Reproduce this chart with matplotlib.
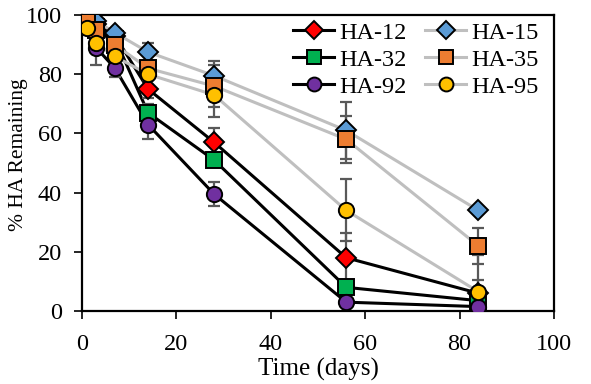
import matplotlib
matplotlib.use("Agg")
import matplotlib.pyplot as plt
from matplotlib.lines import Line2D

plt.rcParams['font.family'] = ['Liberation Serif', 'DejaVu Serif']

# -------------------------
# DATA
# -------------------------

days = [1, 3, 7, 14, 28, 56, 84]

names = ["HA-12", "HA-32", "HA-92", "HA-15", "HA-35", "HA-95"]

ha12 = [99, 97, 93, 75, 57, 18, 6]
ha32 = [98, 96, 92, 67, 51, 8, 3.5]
ha92 = [97, 89, 82, 63, 39.5, 3, 1.5]
ha15 = [99, 98, 94, 87.5, 79.5, 61, 34]
ha35 = [98.5, 95, 90, 82, 76, 58, 22]
ha95 = [95.5, 90.5, 86, 80, 73, 34, 6.5]

err12 = [1, 1, 1.5, 3, 5, 8.5, 4.5]
err32 = [1, 1, 1.5, 3, 2, 2.5, 1.5]
err92 = [1, 6, 3, 5, 4, 1, 1]
err15 = [1, 1, 1, 3, 5, 9.5, 1]
err35 = [1, 1, 2, 2, 7, 8, 6]
err95 = [1, 1.5, 2, 2, 7.5, 10.5, 12.5]

values = [ha12, ha32, ha92, ha15, ha35, ha95]
errors = [err12, err32, err92, err15, err35, err95]

# -------------------------
# STYLES
# -------------------------

face = ["#FF0000", "#00B050", "#7030A0", "#5B9BD5", "#ED7D31", "#FFC000"]
markers = ["D", "s", "o", "D", "s", "o"]
msizes = [10.5, 11, 11, 10.5, 11, 11]
line_col = ["black", "black", "black", "#BFBFBF", "#BFBFBF", "#BFBFBF"]

fig = plt.figure(figsize=(5.91, 3.84), dpi=100)
ax = fig.add_axes([0.1387, 0.19, 0.7986, 0.7708])

for i in range(6):
    ax.plot(days, values[i], color=line_col[i], linewidth=2.2, zorder=2)

for i in range(6):
    ax.errorbar(days, values[i], yerr=errors[i], fmt="none", ecolor="#595959",
                elinewidth=1.6, capsize=4.3, capthick=1.6, zorder=3)

for i in range(6):
    ax.plot(days, values[i], linestyle="none", marker=markers[i], markersize=msizes[i],
            markerfacecolor=face[i], markeredgecolor="black", markeredgewidth=1.4,
            zorder=4 + i)

handles = [
    Line2D([0], [0], color=line_col[i], linewidth=2.2, marker=markers[i],
           markersize=msizes[i] - 1, markerfacecolor=face[i], markeredgecolor="black",
           markeredgewidth=1.4)
    for i in range(6)
]
ax.legend(handles, names, ncol=2, loc="upper right", bbox_to_anchor=(0.998, 1.026),
          frameon=False, fontsize=17.5, handlelength=1.69, handletextpad=0.2,
          columnspacing=0.77, labelspacing=0.2, borderaxespad=0.2)

ax.set_xlim(0, 100)
ax.set_ylim(0, 100)
ax.set_xticks(range(0, 101, 20))
ax.set_yticks(range(0, 101, 20))
ax.tick_params(axis="both", direction="out", length=5.5, width=1.2, labelsize=17.5,
               top=False, right=False)
ax.tick_params(axis="x", pad=11)
ax.tick_params(axis="y", pad=9)
for s in ax.spines.values():
    s.set_linewidth(1.6)

ax.set_xlabel("Time (days)", fontsize=18, labelpad=2)
ax.set_ylabel("% HA Remaining", fontsize=15.5)
ax.yaxis.set_label_coords(-0.1144, 0.527)

fig.savefig("out.png", dpi=100)
